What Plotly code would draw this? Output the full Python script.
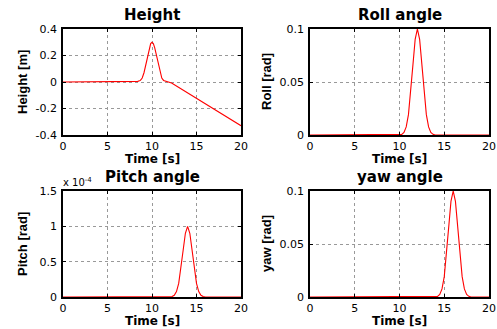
import plotly.graph_objects as go

W, H = 497, 329

# ---------------- data ----------------
time_ticks = [0, 5, 10, 15, 20]

height_t = [0, 6.0, 6.1, 8.4, 8.7, 8.9, 9.1, 9.3, 9.5, 9.7, 9.85, 10.0, 10.15, 10.3, 10.5,
            10.7, 10.9, 11.1, 11.3, 11.6, 12.2, 20]
height_v = [0, 0, 0.004, 0.005, 0.012, 0.03, 0.07, 0.13, 0.2, 0.26, 0.29, 0.30, 0.29, 0.26, 0.2,
            0.13, 0.07, 0.03, 0.012, 0.005, -0.008, -0.33]

roll_t = [0, 10.0, 10.25, 10.5, 10.75, 11.0, 11.25, 11.5, 11.75, 12.0, 12.25, 12.5, 12.75,
          13.0, 13.25, 13.5, 13.75, 14.0, 20]
roll_v = [0, 0, 0.0006, 0.0024, 0.0076, 0.0192, 0.0395, 0.0662, 0.0902, 0.1, 0.0902, 0.0662,
          0.0395, 0.0192, 0.0076, 0.0024, 0.0006, 0, 0]

pitch_t = [0, 12.0, 12.25, 12.5, 12.75, 13.0, 13.25, 13.5, 13.75, 14.0, 14.25, 14.5, 14.75,
           15.0, 15.25, 15.5, 15.75, 16.0, 20]
pitch_v_e4 = [0, 0, 0.006, 0.024, 0.076, 0.192, 0.395, 0.662, 0.902, 1.0, 0.902, 0.662,
              0.395, 0.192, 0.076, 0.024, 0.006, 0, 0]   # in units of 1e-4 rad

yaw_t = [0, 14.0, 14.25, 14.5, 14.75, 15.0, 15.25, 15.5, 15.75, 16.0, 16.25, 16.5, 16.75,
         17.0, 17.25, 17.5, 17.75, 18.0, 20]
yaw_v = [0, 0, 0.0006, 0.0024, 0.0076, 0.0192, 0.0395, 0.0662, 0.0902, 0.1, 0.0902, 0.0662,
         0.0395, 0.0192, 0.0076, 0.0024, 0.0006, 0, 0]

height_ticks = [-0.4, -0.2, 0, 0.2, 0.4]
height_ticklabels = ["-0.4", "-0.2", "0", "0.2", "0.4"]
angle_ticks = [0, 0.05, 0.1]
angle_ticklabels = ["0", "0.05", "0.1"]
pitch_ticks = [0, 0.5, 1, 1.5]
pitch_ticklabels = ["0", "0.5", "1", "1.5"]

titles = ["Height", "Roll angle", "Pitch angle", "yaw angle"]
ylabels = ["Height [m]", "Roll [rad]", "Pitch [rad]", "yaw [rad]"]
xlabel = "Time [s]"

# ---------------- layout helpers ----------------
def px(x):
    return x / W

def py(y):
    return 1 - y / H

# pixel boxes (left, right, top, bottom)
boxes = [(63, 241, 29, 135), (310, 489, 29, 135), (63, 241, 191, 297), (310, 489, 191, 297)]

fig = go.Figure()
series = [(height_t, height_v), (roll_t, roll_v), (pitch_t, pitch_v_e4), (yaw_t, yaw_v)]
yranges = [[-0.4, 0.4], [0, 0.1], [0, 1.5], [0, 0.1]]
yticks = [(height_ticks, height_ticklabels), (angle_ticks, angle_ticklabels),
          (pitch_ticks, pitch_ticklabels), (angle_ticks, angle_ticklabels)]

WIDE = "DejaVu Sans, Verdana, sans-serif"
NARROW = "Liberation Sans, Arial, sans-serif"
annotations = []

def label(x, y, text, size, family, bold=True, angle=0, xanchor="center"):
    annotations.append(dict(x=px(x), y=py(y), xref="paper", yref="paper",
                            xanchor=xanchor, yanchor="middle", textangle=angle, borderpad=0,
                            text=("<b>%s</b>" % text) if bold else text, showarrow=False,
                            font=dict(family=family, size=size, color="black")))

for i, ((t, v), box, yr, (tv, tt)) in enumerate(zip(series, boxes, yranges, yticks)):
    n = "" if i == 0 else str(i + 1)
    fig.add_trace(go.Scatter(x=t, y=v, mode="lines", line=dict(color="#ff0000", width=1.1),
                             xaxis="x" + n, yaxis="y" + n, showlegend=False, hoverinfo="skip"))
    l, r, tp, b = box
    common = dict(showline=True, linecolor="black", linewidth=1.5, mirror="ticks",
                  ticks="inside", ticklen=3, tickcolor="black", automargin=False,
                  showgrid=True, gridcolor="#999999", gridwidth=1, griddash="dot",
                  zeroline=False, tickfont=dict(family=WIDE, size=11, color="black"))
    fig.update_layout(**{
        "xaxis" + n: dict(domain=[px(l), px(r)], range=[0, 20], tickvals=time_ticks,
                          anchor="y" + n, ticklabelstandoff=0, **common),
        "yaxis" + n: dict(domain=[py(b), py(tp)], range=yr, tickvals=tv, ticktext=tt,
                          anchor="x" + n, ticklabelstandoff=2, **common),
    })
    cx = (l + r) / 2
    label(cx, tp - 14, titles[i], 15, WIDE)
    label(cx, b + 24, xlabel, 12, WIDE)
    ylx = 22 if i % 2 == 0 else 266
    label(ylx, (tp + b) / 2, ylabels[i], 13, NARROW, angle=-90)

label(62, 182, "x 10<sup>-4</sup>", 10, WIDE, bold=False, xanchor="left")

fig.update_layout(width=W, height=H, margin=dict(l=0, r=0, t=0, b=0, autoexpand=False),
                  paper_bgcolor="white", plot_bgcolor="white",
                  annotations=annotations)

fig.write_html("out.html", config={"displayModeBar": False},
               post_script="document.body.style.margin='0';document.body.style.overflow='hidden';")
